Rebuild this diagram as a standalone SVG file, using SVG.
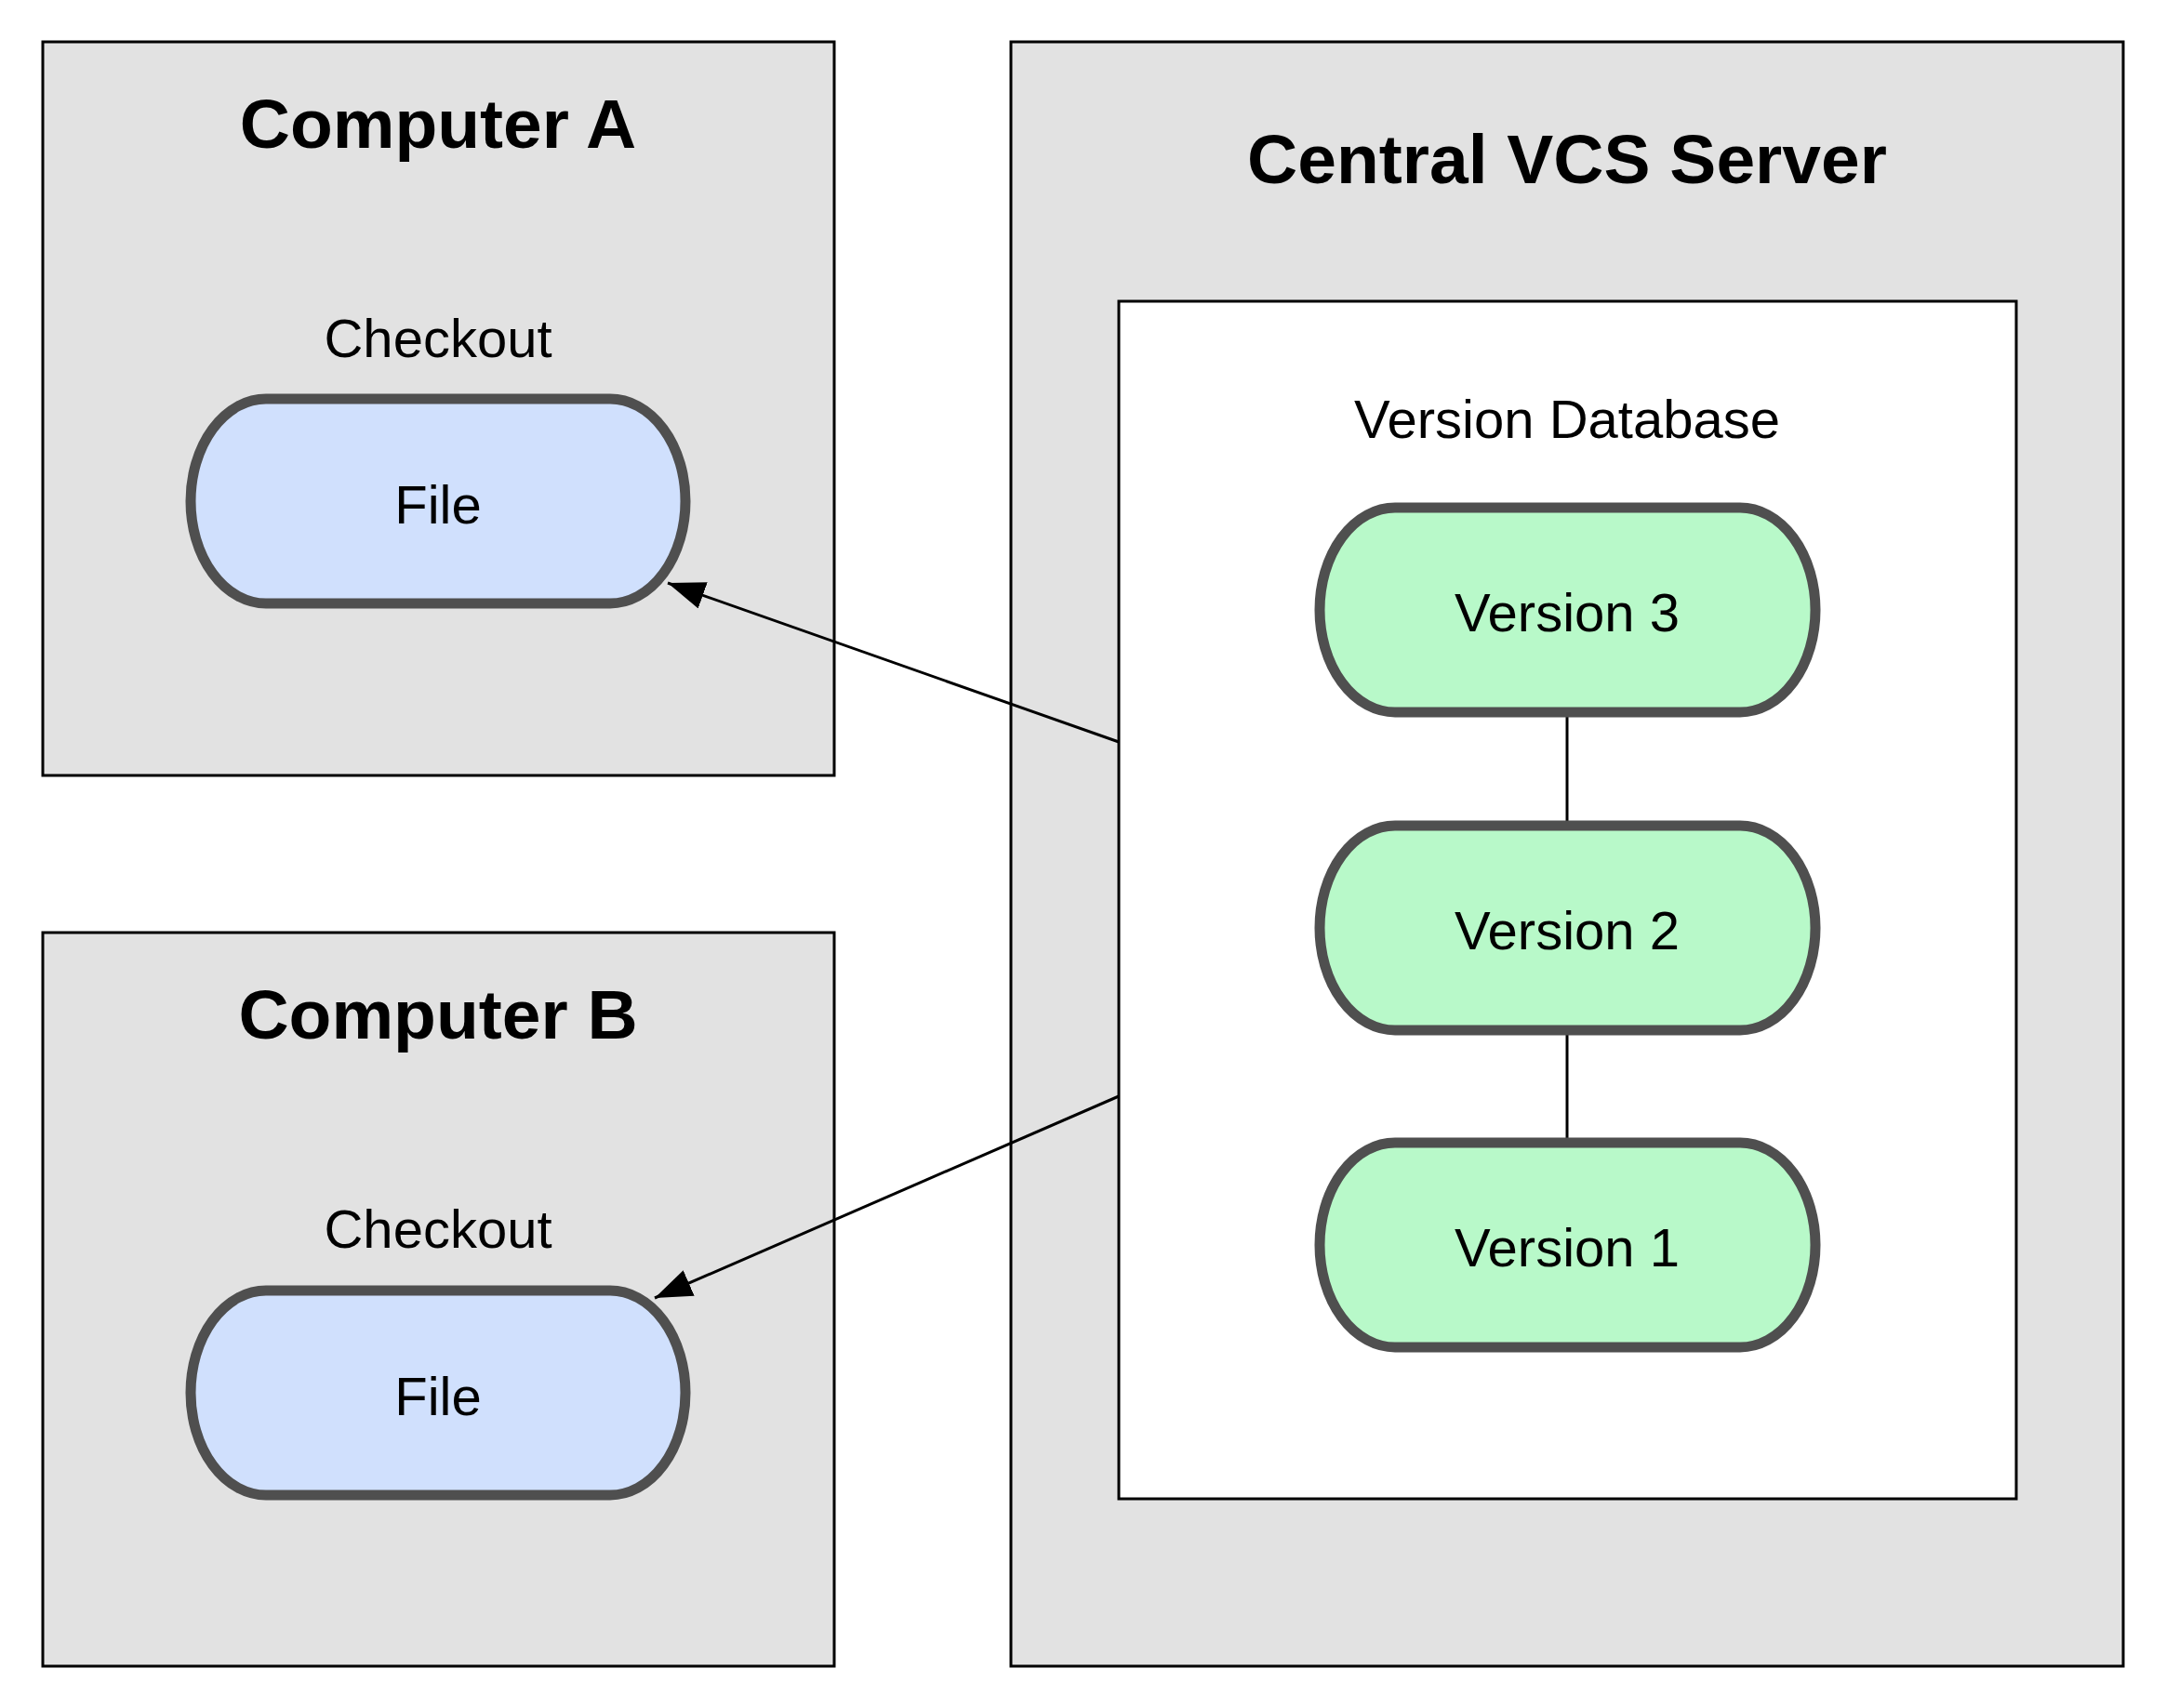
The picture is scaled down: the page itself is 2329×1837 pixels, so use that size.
<svg xmlns="http://www.w3.org/2000/svg" width="2329" height="1837" viewBox="0 0 2329 1837">
<style>
.box{fill:#e2e2e2;stroke:#000;stroke-width:3}
.db{fill:#fff;stroke:#000;stroke-width:3}
.file{fill:#d0e0fd;stroke:#4f4f4f;stroke-width:11}
.ver{fill:#b8f9c9;stroke:#4f4f4f;stroke-width:11}
.title{font-family:"Liberation Sans",Arial,sans-serif;font-weight:bold;font-size:75px;fill:#000;text-anchor:middle}
.lbl{font-family:"Liberation Sans",Arial,sans-serif;font-size:58px;fill:#000;text-anchor:middle}
.edge{stroke:#000;stroke-width:3;fill:none}
</style>
<defs>
<marker id="arr" markerUnits="userSpaceOnUse" markerWidth="42" markerHeight="32" refX="40" refY="15" orient="auto">
<path d="M0,0 L40,15 L0,30 z" fill="#000"/>
</marker>
</defs>
<rect width="2329" height="1837" fill="#fff"/>
<g id="computer-a">
<rect class="box" x="46" y="45" width="851" height="789"/>
<text class="title" x="471" y="159">Computer A</text>
<text class="lbl" x="471" y="384">Checkout</text>
</g>
<g id="computer-b">
<rect class="box" x="46" y="1003" width="851" height="789"/>
<text class="title" x="471" y="1117">Computer B</text>
<text class="lbl" x="471" y="1342">Checkout</text>
</g>
<g id="central-server">
<rect class="box" x="1087" y="45" width="1196" height="1747"/>
<text class="title" x="1685" y="197">Central VCS Server</text>
</g>
<g id="version-database">
<rect class="db" x="1203" y="324" width="965" height="1288"/>
<text class="lbl" x="1685" y="471">Version Database</text>
</g>
<g id="connectors">
<line class="edge" x1="1685" y1="766" x2="1685" y2="888"/>
<line class="edge" x1="1685" y1="1108" x2="1685" y2="1229"/>
<line class="edge" x1="1203" y1="798" x2="718" y2="627" marker-end="url(#arr)"/>
<line class="edge" x1="1203" y1="1179" x2="704" y2="1396" marker-end="url(#arr)"/>
</g>
<g id="file-a">
<rect class="file" x="205" y="429" width="532" height="220" rx="81" ry="110"/>
<text class="lbl" x="471" y="563">File</text>
</g>
<g id="file-b">
<rect class="file" x="205" y="1388" width="532" height="220" rx="81" ry="110"/>
<text class="lbl" x="471" y="1522">File</text>
</g>
<g id="version-3">
<rect class="ver" x="1419" y="546" width="533" height="220" rx="81" ry="110"/>
<text class="lbl" x="1685" y="679">Version 3</text>
</g>
<g id="version-2">
<rect class="ver" x="1419" y="888" width="533" height="220" rx="81" ry="110"/>
<text class="lbl" x="1685" y="1021">Version 2</text>
</g>
<g id="version-1">
<rect class="ver" x="1419" y="1229" width="533" height="220" rx="81" ry="110"/>
<text class="lbl" x="1685" y="1362">Version 1</text>
</g>
</svg>
